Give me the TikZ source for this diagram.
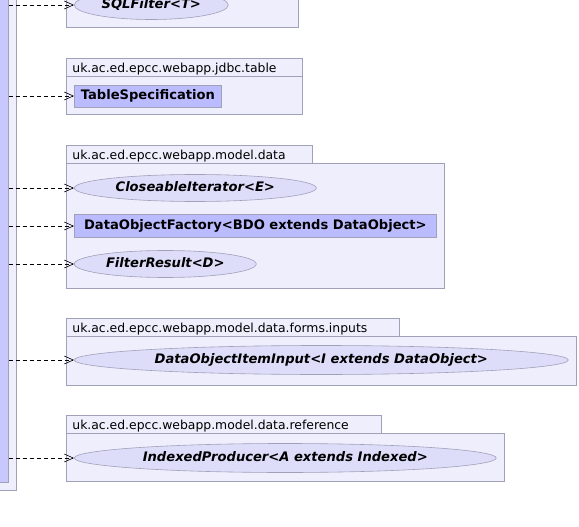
\documentclass[tikz,border=0pt]{standalone}
\usepackage{fontspec}
\setmainfont{DejaVu Sans}
\usetikzlibrary{shapes.geometric,arrows.meta}
\definecolor{pkgfill}{RGB}{238,238,252}
\definecolor{pkgdraw}{RGB}{160,160,185}
\definecolor{clsfill}{RGB}{187,187,255}
\definecolor{ifcfill}{RGB}{221,221,250}
\definecolor{srcfill}{RGB}{200,200,255}
\tikzset{
  x=1pt,y=-1pt,
  pkgbody/.style={draw=pkgdraw,fill=pkgfill,line width=0.8pt,anchor=north west,inner sep=0pt},
  pkgtab/.style={draw=pkgdraw,fill=pkgfill,line width=0.8pt,anchor=north west,inner sep=0pt,
     text depth=0pt,font=\fontsize{12.4}{14}\selectfont,align=left},
  cls/.style={draw=pkgdraw,fill=clsfill,line width=0.8pt,anchor=west,inner sep=0pt,
     text height=0.73em,text depth=0pt,
     font=\fontsize{13.1}{15}\selectfont\bfseries},
  ifc/.style={ellipse,draw=pkgdraw,fill=ifcfill,line width=0.6pt,anchor=west,inner sep=0pt,
     text height=0.73em,text depth=0pt,
     font=\fontsize{13.1}{15}\selectfont\bfseries\itshape},
  dep/.style={draw=black,line width=0.6pt,dash pattern=on 4pt off 3pt,
     -{Straight Barb[length=9pt,width=8pt,line width=0.6pt]}},
}
\begin{document}
\begin{tikzpicture}
\useasboundingbox (0,0) rectangle (579,527);
\fill[white] (0,0) rectangle (579,527);
% source package / class on the left
\node[pkgbody,minimum width=17pt,minimum height=500pt] (srcpkg) at (-1,-10) {};
\node[draw=pkgdraw,fill=srcfill,line width=0.8pt,anchor=north west,inner sep=0pt,
      minimum width=9pt,minimum height=492pt] (src) at (-1,-10) {};
% package 1 (cut off)
\node[pkgbody,minimum width=232pt,minimum height=60pt] (p1) at (66,-33) {};
\node[ifc,minimum width=154pt,minimum height=29pt] (sql) at (74,5) {SQLFilter<T>};
% jdbc.table
\node[pkgtab,minimum width=236pt,minimum height=18pt,text width=230pt] (t2) at (66,58) {\hspace{3pt}uk.ac.ed.epcc.webapp.jdbc.table};
\node[pkgbody,minimum width=236pt,minimum height=38pt] (p2) at (66,76) {};
\node[cls,minimum width=147pt,minimum height=22pt] (tab) at (74,96) {TableSpecification};
% model.data
\node[pkgtab,minimum width=246pt,minimum height=18pt,text width=240pt] (t3) at (66,145) {\hspace{3pt}uk.ac.ed.epcc.webapp.model.data};
\node[pkgbody,minimum width=378pt,minimum height=125pt] (p3) at (66,163) {};
\node[ifc,minimum width=242pt,minimum height=27pt] (ci) at (74,188) {CloseableIterator<E>};
\node[cls,minimum width=362pt,minimum height=23pt] (dof) at (74,226) {DataObjectFactory<BDO extends DataObject>};
\node[ifc,minimum width=182pt,minimum height=27pt] (fr) at (74,264) {FilterResult<D>};
% forms.inputs
\node[pkgtab,minimum width=333pt,minimum height=18pt,text width=327pt] (t4) at (66,318) {\hspace{3pt}uk.ac.ed.epcc.webapp.model.data.forms.inputs};
\node[pkgbody,minimum width=510pt,minimum height=49pt] (p4) at (66,336) {};
\node[ifc,minimum width=494pt,minimum height=29pt] (doi) at (74,360) {DataObjectItemInput<I extends DataObject>};
% reference
\node[pkgtab,minimum width=315pt,minimum height=18pt,text width=309pt] (t5) at (66,415) {\hspace{3pt}uk.ac.ed.epcc.webapp.model.data.reference};
\node[pkgbody,minimum width=438pt,minimum height=48pt] (p5) at (66,433) {};
\node[ifc,minimum width=422pt,minimum height=29pt] (ip) at (74,458) {IndexedProducer<A extends Indexed>};
% dependencies
\foreach \t in {sql,tab,ci,dof,fr,doi,ip}
  \draw[dep] (src.east |- \t.west) -- (\t.west);
\end{tikzpicture}
\end{document}
